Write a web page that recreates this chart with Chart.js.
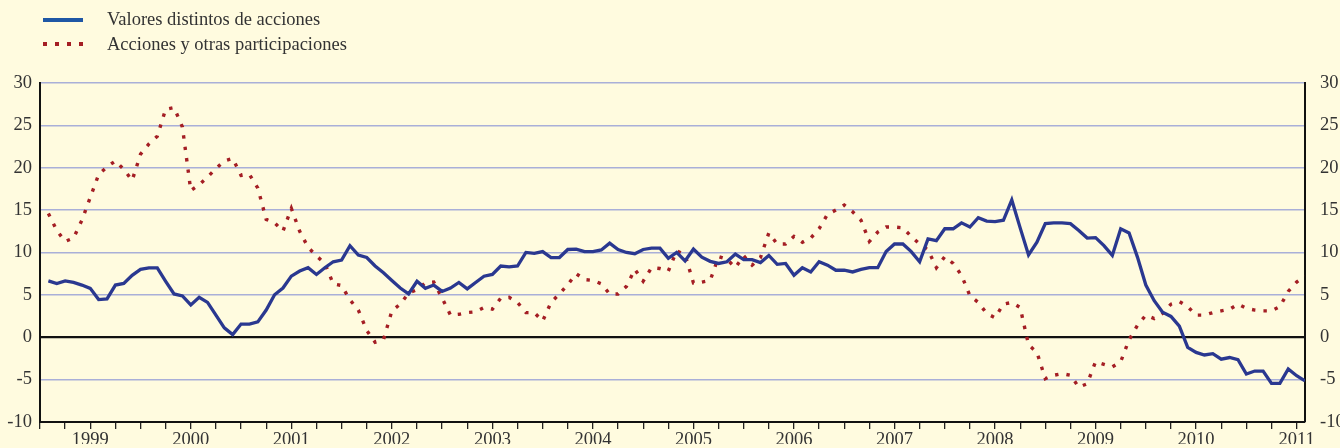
<!DOCTYPE html>
<html>
<head>
<meta charset="utf-8">
<script src="https://cdn.jsdelivr.net/npm/chart.js@4/dist/chart.umd.min.js"></script>
<style>
html,body{margin:0;padding:0;background:#FFFBDF;}
#wrap{position:relative;width:1340px;height:448px;overflow:hidden;background:#FFFBDF;}
#c{position:absolute;left:0;top:0;}
.lgtxt{position:absolute;font-family:"Liberation Serif","Times New Roman",serif;font-size:18.5px;color:#333;white-space:nowrap;line-height:20px;}
.lgline{position:absolute;}
</style>
</head>
<body>
<div id="wrap">
  <canvas id="c" width="1340" height="448"></canvas>
  <div class="lgline" style="left:43px;top:18px;width:40px;height:3.5px;background:#1F57A5;"></div>
  <div class="lgtxt" style="left:107px;top:9px;">Valores distintos de acciones</div>
  <div class="lgline" style="left:43px;top:42px;width:3.5px;height:3.5px;background:#A41E24;"></div>
  <div class="lgline" style="left:55px;top:42px;width:3.5px;height:3.5px;background:#A41E24;"></div>
  <div class="lgline" style="left:67px;top:42px;width:3.5px;height:3.5px;background:#A41E24;"></div>
  <div class="lgline" style="left:79px;top:42px;width:3.5px;height:3.5px;background:#A41E24;"></div>
  <div class="lgtxt" style="left:107px;top:34px;">Acciones y otras participaciones</div>
</div>
<script>
// Monthly series, January 1999 onwards
const valoresDistintos = [
  6.65, 6.34, 6.65, 6.46, 6.15, 5.76, 4.44, 4.51, 6.15, 6.34, 7.3, 8.0,
  8.17, 8.17, 6.6, 5.1, 4.86, 3.8, 4.7, 4.1, 2.6, 1.1, 0.3, 1.55,
  1.55, 1.8, 3.2, 5.0, 5.8, 7.2, 7.8, 8.2, 7.4, 8.2, 8.9, 9.1,
  10.8, 9.7, 9.4, 8.4, 7.6, 6.7, 5.8, 5.1, 6.6, 5.76, 6.15, 5.4,
  5.8, 6.46, 5.7, 6.46, 7.2, 7.4, 8.4, 8.3, 8.4, 10.0, 9.9, 10.1,
  9.4, 9.4, 10.35, 10.4, 10.1, 10.1, 10.3, 11.1, 10.35, 10.0, 9.85, 10.35,
  10.5, 10.5, 9.3, 10.0, 9.0, 10.4, 9.45, 8.95, 8.7, 8.9, 9.8, 9.15,
  9.15, 8.8, 9.65, 8.6, 8.7, 7.3, 8.2, 7.7, 8.9, 8.5, 7.9, 7.9,
  7.7, 8.0, 8.2, 8.2, 10.1, 11.0, 11.0, 10.1, 8.9, 11.6, 11.4, 12.8,
  12.8, 13.5, 13.0, 14.1, 13.7, 13.65, 13.8, 16.2, 12.9, 9.7, 11.2, 13.4,
  13.5, 13.5, 13.4, 12.6, 11.7, 11.75, 10.8, 9.65, 12.8, 12.3, 9.45, 6.15,
  4.3, 2.95, 2.45, 1.3, -1.2, -1.8, -2.1, -1.95, -2.6, -2.4, -2.65, -4.35,
  -4.0, -4.0, -5.45, -5.45, -3.75, -4.55, -5.15
];
const accionesOtras = [
  14.6, 12.6, 11.3, 11.7, 13.8, 16.5, 19.2, 20.1, 20.8, 19.8, 18.5, 21.6,
  22.8, 23.7, 26.9, 27.1, 24.8, 17.3, 18.0, 18.9, 19.9, 20.8, 21.1, 19.1,
  19.2, 17.6, 13.9, 13.5, 12.5, 15.2, 12.5, 10.6, 9.6, 8.7, 6.3, 6.1,
  4.4, 3.2, 0.8, -0.6, -0.3, 3.1, 3.9, 5.2, 5.6, 6.4, 6.5, 4.6,
  2.6, 2.7, 2.9, 3.0, 3.5, 3.3, 4.6, 4.7, 4.1, 2.9, 2.9, 1.9,
  4.1, 5.1, 6.2, 7.5, 6.8, 6.7, 6.3, 5.1, 5.1, 6.0, 8.0, 6.6,
  8.2, 8.1, 7.8, 10.2, 9.7, 6.4, 6.5, 6.7, 9.5, 9.2, 8.2, 9.6,
  8.5, 9.4, 12.3, 11.0, 11.0, 11.9, 11.2, 11.7, 12.8, 14.5, 15.0, 15.6,
  14.8, 13.8, 11.3, 12.4, 13.0, 13.0, 12.9, 11.9, 11.0, 10.3, 8.2, 9.5,
  8.7, 7.3, 4.9, 4.1, 2.8, 2.3, 3.9, 4.1, 3.5, -0.9, -1.8, -4.9,
  -4.5, -4.3, -4.5, -5.9, -5.5, -2.9, -3.2, -3.5, -2.9, -0.3, 1.4, 2.6,
  2.2, 2.8, 3.9, 4.2, 3.6, 2.6, 2.6, 2.9, 3.1, 3.3, 3.9, 3.4,
  3.2, 3.1, 3.1, 3.6, 5.4, 6.5, 7.2
];
const yearLabels = ['1999','2000','2001','2002','2003','2004','2005','2006','2007','2008','2009','2010','2011'];
const yTicks = [-10, -5, 0, 5, 10, 15, 20, 25, 30];

const font = {family: '"Liberation Serif", "Times New Roman", serif', size: 18.5};
const txt = '#333333';
const gridCol = '#A9AFD8';

const toPts = arr => arr.map((v, i) => ({x: i + 1, y: v}));

new Chart(document.getElementById('c'), {
  type: 'line',
  data: {
    datasets: [
      {
        label: 'Valores distintos de acciones',
        data: toPts(valoresDistintos),
        borderColor: '#2A3890',
        borderWidth: 3.3,
        pointRadius: 0,
        tension: 0,
        borderJoinStyle: 'miter',
        order: 0
      },
      {
        label: 'Acciones y otras participaciones',
        data: toPts(accionesOtras),
        borderColor: '#A41E24',
        borderWidth: 3.4,
        borderDash: [3.4, 8.1],
        borderCapStyle: 'butt',
        pointRadius: 0,
        tension: 0,
        order: 1
      }
    ]
  },
  options: {
    responsive: false,
    animation: false,
    layout: {padding: {top: 83, left: 0, right: 0, bottom: 0}},
    plugins: {legend: {display: false}, tooltip: {enabled: false}},
    scales: {
      x: {
        type: 'linear',
        min: 0,
        max: valoresDistintos.length,
        afterBuildTicks: s => {
          const t = [];
          for (let v = 0; v <= valoresDistintos.length; v += 3) t.push({value: v});
          s.ticks = t;
        },
        ticks: {
          autoSkip: false, maxRotation: 0, minRotation: 0, padding: 0,
          font: font, color: txt,
          callback: v => (v % 12 === 6 ? yearLabels[(v - 6) / 12] : '')
        },
        grid: {drawOnChartArea: false, drawTicks: true, tickLength: 7, color: '#222', lineWidth: 1.3},
        border: {display: true, color: '#111', width: 2},
        afterFit: s => { s.height = 22; }
      },
      y: {
        position: 'left',
        min: -10, max: 30,
        afterBuildTicks: s => { s.ticks = yTicks.map(v => ({value: v})); },
        ticks: {padding: 8, font: font, color: txt},
        grid: {
          drawTicks: false,
          color: c => c.tick.value === 0 ? '#111' : (c.tick.value === -10 ? 'rgba(0,0,0,0)' : gridCol),
          lineWidth: c => c.tick.value === 0 ? 2.2 : 1.6
        },
        border: {display: true, color: '#111', width: 2},
        afterFit: s => { s.width = 40; }
      },
      y2: {
        position: 'right',
        min: -10, max: 30,
        afterBuildTicks: s => { s.ticks = yTicks.map(v => ({value: v})); },
        ticks: {padding: 15, font: font, color: txt},
        grid: {drawOnChartArea: false, drawTicks: false},
        border: {display: true, color: '#111', width: 2},
        afterFit: s => { s.width = 35; }
      }
    }
  }
});
</script>
</body>
</html>
